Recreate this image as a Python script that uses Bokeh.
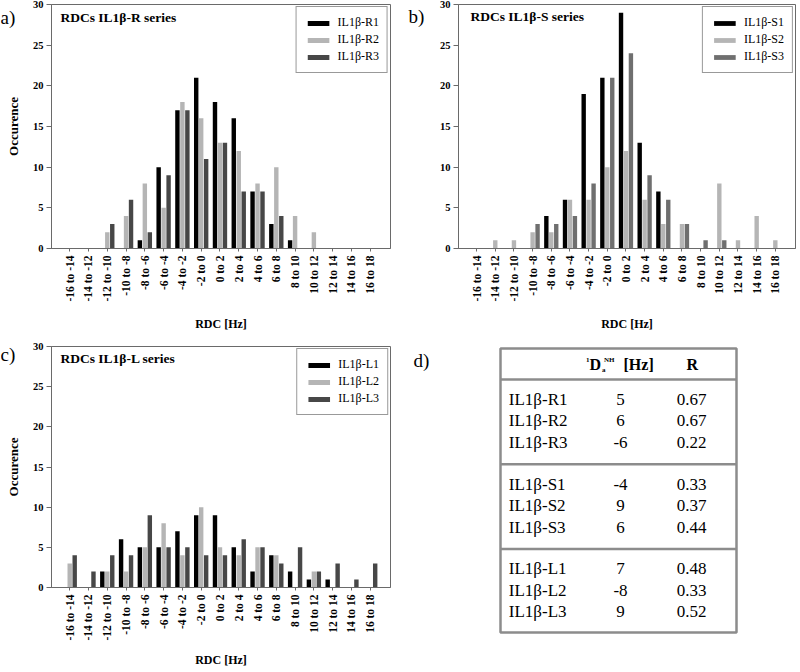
import math
from bokeh.plotting import figure
from bokeh.models import Range1d, FixedTicker, Label, ColumnDataSource
from bokeh.layouts import column, row
from bokeh.transform import dodge
from bokeh.embed import file_html
from bokeh.resources import INLINE
from bokeh.core.properties import value

# ---------------- data ----------------
categories = ["-16 to -14", "-14 to -12", "-12 to -10", "-10 to -8", "-8 to -6",
              "-6 to -4", "-4 to -2", "-2 to 0", "0 to 2", "2 to 4", "4 to 6",
              "6 to 8", "8 to 10", "10 to 12", "12 to 14", "14 to 16", "16 to 18"]

R1 = [0, 0, 0, 0, 1, 10, 17, 21, 18, 16, 7, 3, 1, 0, 0, 0, 0]
R2 = [0, 0, 2, 4, 8, 5, 18, 16, 13, 12, 8, 10, 4, 2, 0, 0, 0]
R3 = [0, 0, 3, 6, 2, 9, 17, 11, 13, 7, 7, 4, 0, 0, 0, 0, 0]

S1 = [0, 0, 0, 0, 4, 6, 19, 21, 29, 13, 7, 0, 0, 0, 0, 0, 0]
S2 = [0, 1, 1, 2, 2, 6, 6, 10, 12, 6, 3, 3, 0, 8, 1, 4, 1]
S3 = [0, 0, 0, 3, 3, 4, 8, 21, 24, 9, 6, 3, 1, 1, 0, 0, 0]

L1 = [0, 0, 2, 6, 5, 5, 7, 9, 9, 5, 2, 4, 2, 1, 1, 0, 0]
L2 = [3, 0, 2, 2, 5, 8, 4, 10, 5, 4, 5, 4, 0, 2, 0, 0, 0]
L3 = [4, 2, 4, 4, 9, 5, 5, 4, 4, 6, 5, 3, 5, 2, 3, 1, 3]

y_ticks = [0, 5, 10, 15, 20, 25, 30]

table_names = ["IL1β-R1", "IL1β-R2", "IL1β-R3",
               "IL1β-S1", "IL1β-S2", "IL1β-S3",
               "IL1β-L1", "IL1β-L2", "IL1β-L3"]
table_da = ["5", "6", "-6", "-4", "9", "6", "7", "-8", "9"]
table_r = ["0.67", "0.67", "0.22", "0.33", "0.37", "0.44", "0.48", "0.33", "0.52"]

# ---------------- style ----------------
FONT = "Liberation Serif"
C_BLACK = "#000000"
C_LIGHT = "#b5b5b5"
C_DARK = "#474747"
C_MID = "#6f6f6f"
FRAME = "#6a6a6a"

X0, X1 = -0.97, 17.08


def hist_panel(width, height, bl, br, bt, bb, series, names, colors, title,
               title_dx, title_dy, xlabel_standoff):
    p = figure(width=width, height=height, output_backend="svg", toolbar_location=None,
               x_range=Range1d(X0, X1), y_range=Range1d(0, 30),
               min_border_left=bl, min_border_right=br, min_border_top=bt, min_border_bottom=bb)
    p.outline_line_color = FRAME
    p.outline_line_width = 1
    p.xgrid.visible = False
    p.ygrid.visible = False

    xs = list(range(len(categories)))
    data = {"x": xs}
    keys = []
    for i, s in enumerate(series):
        data["s%d" % i] = s
        keys.append("s%d" % i)
    src = ColumnDataSource(data)
    offsets = [-0.265, 0.0, 0.265]
    for k, n, c, off in zip(keys, names, colors, offsets):
        p.vbar(x=dodge("x", off, range=p.x_range), top=k, width=0.235, source=src,
               fill_color=c, line_color=None, legend_label=n)

    xa = p.xaxis[0]
    xa.ticker = FixedTicker(ticks=xs)
    xa.major_label_overrides = {i: c for i, c in enumerate(categories)}
    xa.major_label_orientation = math.pi / 2
    xa.major_label_text_font = FONT
    xa.major_label_text_font_style = "bold"
    xa.major_label_text_font_size = "11.5px"
    xa.major_label_text_color = "black"
    xa.major_label_standoff = 4
    xa.major_tick_out = 3
    xa.major_tick_in = 0
    xa.minor_tick_out = 0
    xa.minor_tick_in = 0
    xa.axis_line_color = FRAME
    xa.major_tick_line_color = FRAME
    xa.axis_label = "RDC [Hz]"
    xa.axis_label_text_font = FONT
    xa.axis_label_text_font_style = "bold"
    xa.axis_label_text_font_size = "12px"
    xa.axis_label_text_color = "black"
    xa.axis_label_standoff = xlabel_standoff

    ya = p.yaxis[0]
    ya.ticker = FixedTicker(ticks=y_ticks)
    ya.major_label_text_font = FONT
    ya.major_label_text_font_style = "bold"
    ya.major_label_text_font_size = "10.5px"
    ya.major_label_text_color = "black"
    ya.major_label_standoff = 3
    ya.major_tick_out = 5
    ya.major_tick_in = 0
    ya.minor_tick_out = 0
    ya.minor_tick_in = 0
    ya.axis_line_color = FRAME
    ya.major_tick_line_color = FRAME

    lg = p.legend[0]
    lg.location = "top_right"
    lg.margin = 2
    lg.padding = 8
    lg.spacing = 2
    lg.glyph_width = 27
    lg.glyph_height = 6
    lg.label_height = 12
    lg.label_standoff = 6
    lg.label_text_font = FONT
    lg.label_text_font_size = "12px"
    lg.label_text_color = "black"
    lg.border_line_color = "#333333"
    lg.border_line_width = 1
    lg.background_fill_color = "white"
    lg.background_fill_alpha = 1.0

    frame_w = width - bl - br
    frame_h = height - bt - bb
    ppx = frame_w / (X1 - X0)
    ppy = frame_h / 30.0
    p.add_layout(Label(x=X0 + title_dx / ppx, y=30 - title_dy / ppy, text=title,
                       text_font=FONT, text_font_style="bold", text_font_size="13.5px",
                       text_baseline="middle", text_align="left", text_color="black"))
    return p


def tag_fig(width, height, bt, bb, tag, tag_x, tag_dy, ylabel=None, ylabel_x=None):
    """Narrow side strip holding the panel letter (and the rotated y title)."""
    f = figure(width=width, height=height, output_backend="svg", toolbar_location=None,
               x_range=Range1d(0, width), y_range=Range1d(0, 30),
               x_axis_location=None, y_axis_location=None,
               min_border_left=0, min_border_right=0, min_border_top=bt, min_border_bottom=bb)
    f.outline_line_color = None
    f.xgrid.visible = False
    f.ygrid.visible = False
    ppy = (height - bt - bb) / 30.0
    f.text(x=[tag_x], y=[30 - tag_dy / ppy], text=[tag], text_font=value(FONT),
           text_font_size="19px", text_baseline="middle", text_align="left", text_color="black")
    if ylabel:
        f.text(x=[ylabel_x], y=[15], text=[ylabel], angle=math.pi / 2,
               text_font=value(FONT), text_font_style="bold", text_font_size="13px",
               text_baseline="middle", text_align="center", text_color="black")
    return f


WL = 400          # left column width
WR = 398          # right column width
H1 = 334          # top row height
H2 = 336          # bottom row height

TA = 29
TB = 36
pa = hist_panel(WL - TA, H1, 20, 10, 4, 84, [R1, R2, R3], ["IL1β-R1", "IL1β-R2", "IL1β-R3"],
                [C_BLACK, C_LIGHT, C_DARK], "RDCs IL1β-R series", 9, 13, 13)
ta = tag_fig(TA, H1, 4, 84, "a)", 0, 13, "Occurence", 13)

pb = hist_panel(WR - TB, H1, 20, 3, 4, 84, [S1, S2, S3], ["IL1β-S1", "IL1β-S2", "IL1β-S3"],
                [C_BLACK, C_LIGHT, C_MID], "RDCs IL1β-S series", 12, 12.5, 13)
tb = tag_fig(TB, H1, 4, 84, "b)", 8, 12.5)

pc = hist_panel(WL - TA, H2, 19, 10, 12, 78, [L1, L2, L3], ["IL1β-L1", "IL1β-L2", "IL1β-L3"],
                [C_BLACK, C_LIGHT, C_DARK], "RDCs IL1β-L series", 9, 12, 10)
tc = tag_fig(TA, H2, 12, 78, "c)", 0, 8, "Occurence", 13)

# ---------------- table panel d ----------------
pd = figure(width=WR, height=H2, output_backend="svg", toolbar_location=None,
            x_range=Range1d(0, WR), y_range=Range1d(H2, 0),
            x_axis_location=None, y_axis_location=None, min_border=0)
pd.outline_line_color = None
pd.xgrid.visible = False
pd.ygrid.visible = False

TBL_L, TBL_R, TBL_T, TBL_B = 100, 336, 14, 298
HDR_LINE = 45
ROW0 = 65.0
ROW_STEP = 21.4
GROUP_STEP = 84.7
GRID = "#8c8c8c"

pd.quad(left=[TBL_L], right=[TBL_R], top=[TBL_T], bottom=[TBL_B],
        fill_color=None, line_color=GRID, line_width=2.5)
sep_y = [HDR_LINE, HDR_LINE + GROUP_STEP, HDR_LINE + 2 * GROUP_STEP]
pd.segment(x0=[TBL_L] * 3, x1=[TBL_R] * 3, y0=sep_y, y1=sep_y, line_color=GRID, line_width=2.5)

row_y = [ROW0 + (i // 3) * GROUP_STEP + (i % 3) * ROW_STEP for i in range(len(table_names))]
tsrc = ColumnDataSource(dict(y=row_y, name=table_names, da=table_da, r=table_r))
common = dict(text_font=value(FONT), text_font_size="17px", text_baseline="middle",
              text_color="black", source=tsrc)
pd.text(x=108.3, y="y", text="name", text_align="left", **common)
pd.text(x=220, y="y", text="da", text_align="center", **common)
pd.text(x=291, y="y", text="r", text_align="center", **common)

HDR_Y = 29.5
hdr = dict(text_font=value(FONT), text_font_style="bold", text_baseline="middle",
           text_color="black")
pd.text(x=[185.5], y=[HDR_Y - 4], text=["1"], text_font_size="7px", text_align="left", **hdr)
pd.text(x=[189], y=[HDR_Y], text=["D"], text_font_size="16px", text_align="left", **hdr)
pd.text(x=[201.5], y=[HDR_Y + 5.5], text=["a"], text_font_size="7px", text_align="left", **hdr)
pd.text(x=[203.5], y=[HDR_Y - 4.5], text=["NH"], text_font_size="7px", text_align="left", **hdr)
pd.text(x=[223], y=[HDR_Y], text=["[Hz]"], text_font_size="16px", text_align="left", **hdr)
pd.text(x=[291.7], y=[HDR_Y], text=["R"], text_font_size="16px", text_align="center", **hdr)

pd.text(x=[13], y=[26], text=["d)"], text_font=value(FONT), text_font_size="19px",
        text_baseline="middle", text_align="left", text_color="black")

layout = row(column(row(ta, pa), row(tc, pc)), column(row(tb, pb), pd))

open("out.html", "w").write(file_html(layout, INLINE))
